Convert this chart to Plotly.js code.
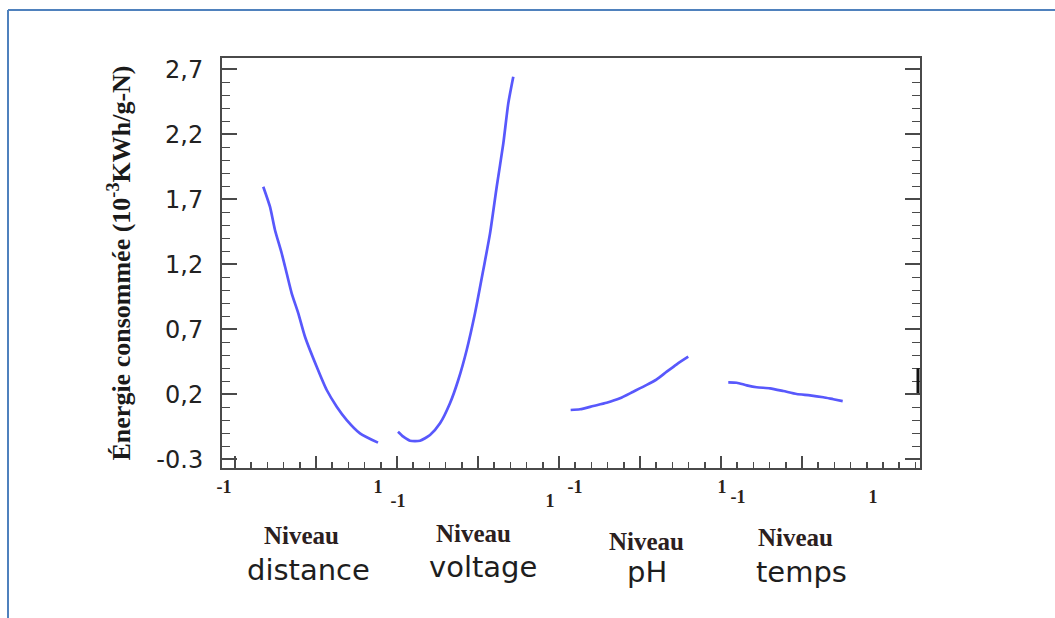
<!DOCTYPE html>
<html>
<head>
<meta charset="utf-8">
<script src="https://cdn.plot.ly/plotly-3.0.1.min.js"></script>
<style>
  html, body { margin: 0; padding: 0; background: #ffffff; }
  #chart { width: 1055px; height: 618px; }
</style>
</head>
<body>
<div id="chart"></div>
<script>
// Perturbation curves: energy consumed vs coded factor level (-1 .. 1)
const factorNames = ['distance', 'voltage', 'pH', 'temps'];
const levelWord = 'Niveau';
const levelTickVals = [-1, 1];
const levelTickText = ['-1', '1'];

const yTickVals = [-0.3, 0.2, 0.7, 1.2, 1.7, 2.2, 2.7];
const yTickText = ['-0.3', '0,2', '0,7', '1,2', '1,7', '2,2', '2,7'];

// distance
const distLevel = [-0.490, -0.403, -0.338, -0.251, -0.186, -0.121, -0.035, 0.052, 0.204, 0.334, 0.464, 0.594, 0.766, 1.0];
const distEnergy = [1.797, 1.643, 1.464, 1.285, 1.131, 0.977, 0.823, 0.643, 0.412, 0.233, 0.105, 0.002, -0.100, -0.172];
// voltage
const voltLevel = [-1.0, -0.930, -0.842, -0.711, -0.579, -0.447, -0.316, -0.207, -0.096, 0.013, 0.122, 0.211, 0.299, 0.386, 0.451, 0.517];
const voltEnergy = [-0.088, -0.126, -0.157, -0.157, -0.113, -0.023, 0.131, 0.310, 0.541, 0.823, 1.156, 1.438, 1.797, 2.131, 2.438, 2.643];
// pH
const phLevel = [-1.059, -0.932, -0.751, -0.569, -0.388, -0.207, -0.024, 0.112, 0.248, 0.384, 0.541];
const phEnergy = [0.079, 0.085, 0.110, 0.135, 0.169, 0.220, 0.272, 0.315, 0.374, 0.431, 0.489];
// temps
const tempsLevel = [-1.144, -1.019, -0.871, -0.723, -0.526, -0.329, -0.130, 0.067, 0.264, 0.412, 0.551];
const tempsEnergy = [0.292, 0.289, 0.269, 0.254, 0.246, 0.225, 0.202, 0.192, 0.177, 0.162, 0.148];

// ---- layout geometry (pixels) ----
const W = 1055, H = 618;
const PL = 222, PR = 920, PT = 58, PB = 468;
const plotW = PR - PL, plotH = PB - PT;
const px2paperX = p => (p - PL) / plotW;
const py2paperY = p => (PB - p) / plotH;

// where each factor's -1 / +1 sit, and the strip of the frame each factor owns
const panelPx = [[224, 378], [398, 550], [575, 722], [738, 873]];
const panelEdges = [222, 388, 562, 725, 920];
const labelStandoff = [6, 20, 6, 16];

function panelRange(a, b, lo, hi) {
  const s = (b - a) / 2;
  return [-1 - (a - lo) / s, 1 + (hi - b) / s];
}

const lineStyle = { color: 'rgb(88,88,252)', width: 2.7, shape: 'spline', smoothing: 0.6 };
const series = [[distLevel, distEnergy], [voltLevel, voltEnergy], [phLevel, phEnergy], [tempsLevel, tempsEnergy]];

// empty trace so the full-width frame subplot exists
const traces = [{ type: 'scatter', mode: 'lines', x: [], y: [], xaxis: 'x', yaxis: 'y', hoverinfo: 'skip' }];
series.forEach((s, i) => traces.push({
  type: 'scatter', mode: 'lines',
  x: s[0], y: s[1],
  xaxis: 'x' + (i + 2), yaxis: 'y',
  name: factorNames[i],
  line: lineStyle,
  cliponaxis: false
}));

const frameColor = '#4a4a4a';
const xMajor = [13, 94, 175, 256, 337, 418, 499, 580];
const xMinor = [];
for (let v = 13 + 16.2; v < plotW - 2; v += 16.2) xMinor.push(v);
const yMinor = [];
for (let k = 0; k <= 31; k++) yMinor.push(-0.3 + k * 0.1);

const layout = {
  width: W, height: H,
  margin: { l: PL, r: W - PR, t: PT, b: H - PB, pad: 0 },
  paper_bgcolor: '#ffffff', plot_bgcolor: 'rgba(0,0,0,0)',
  showlegend: false,
  xaxis: {
    domain: [0, 1], range: [0, plotW], showgrid: false, zeroline: false,
    showline: true, linecolor: frameColor, linewidth: 2, mirror: true,
    tickmode: 'array', tickvals: xMajor,
    ticks: 'inside', ticklen: 12, tickwidth: 2, tickcolor: frameColor,
    showticklabels: false,
    minor: { tickmode: 'array', tickvals: xMinor, ticks: 'inside', ticklen: 6, tickwidth: 1.5, tickcolor: frameColor, showgrid: false }
  },
  yaxis: {
    anchor: 'x', range: [-0.367, 2.787], showgrid: false, zeroline: false,
    showline: true, linecolor: frameColor, linewidth: 2, mirror: 'ticks',
    tickmode: 'array', tickvals: yTickVals, ticktext: yTickText,
    ticks: 'inside', ticklen: 15, tickwidth: 2, tickcolor: frameColor,
    ticklabelstandoff: 12,
    tickfont: { family: 'DejaVu Sans', size: 24, color: '#222222' },
    minor: { tickmode: 'array', tickvals: yMinor, ticks: 'inside', ticklen: 8, tickwidth: 1.5, tickcolor: frameColor, showgrid: false },
    title: {
      text: 'Énergie consommée (10<sup>-3</sup>KWh/g-N)',
      font: { family: 'Liberation Serif', size: 26, color: '#1a1a1a', weight: 'bold' },
      standoff: 18
    }
  },
  annotations: [],
  shapes: [
    // outer frame: top and left rules
    { type: 'line', xref: 'paper', yref: 'paper', x0: px2paperX(8), x1: px2paperX(1060), y0: py2paperY(10), y1: py2paperY(10), line: { color: '#4f81bd', width: 2 } },
    { type: 'line', xref: 'paper', yref: 'paper', x0: px2paperX(8), x1: px2paperX(8), y0: py2paperY(10), y1: py2paperY(625), line: { color: '#4f81bd', width: 2 } },
    // heavy mark on the right spine
    { type: 'line', xref: 'paper', yref: 'y', x0: px2paperX(918), x1: px2paperX(918), y0: 0.21, y1: 0.40, line: { color: '#111111', width: 3 } }
  ]
};

panelPx.forEach((p, i) => {
  const lo = panelEdges[i], hi = panelEdges[i + 1];
  layout['xaxis' + (i + 2)] = {
    domain: [px2paperX(lo), px2paperX(hi)], anchor: 'y', side: 'bottom',
    range: panelRange(p[0], p[1], lo, hi),
    showgrid: false, zeroline: false, showline: false, ticks: '',
    tickmode: 'array', tickvals: levelTickVals, ticktext: levelTickText,
    ticklabelstandoff: labelStandoff[i],
    tickfont: { family: 'Liberation Serif', size: 18, color: '#2a2218', weight: 'bold' }
  };
});

// captions under the frame: "Niveau" + factor name
const nivPos = [[301, 535], [473, 533], [646, 541], [795, 537]];
const namePos = [[308, 570], [483, 567], [647, 572], [801, 572]];
factorNames.forEach((name, i) => {
  layout.annotations.push({
    xref: 'paper', yref: 'paper', x: px2paperX(nivPos[i][0]), y: py2paperY(nivPos[i][1]),
    xanchor: 'center', yanchor: 'middle', showarrow: false, text: levelWord,
    font: { family: 'Liberation Serif', size: 25, color: '#2b2020', weight: 'bold' }
  });
  layout.annotations.push({
    xref: 'paper', yref: 'paper', x: px2paperX(namePos[i][0]), y: py2paperY(namePos[i][1]),
    xanchor: 'center', yanchor: 'middle', showarrow: false, text: name,
    font: { family: 'DejaVu Sans', size: 29, color: '#1e1e1e' }
  });
});

Plotly.newPlot('chart', traces, layout, { displayModeBar: false, staticPlot: true });
</script>
</body>
</html>
